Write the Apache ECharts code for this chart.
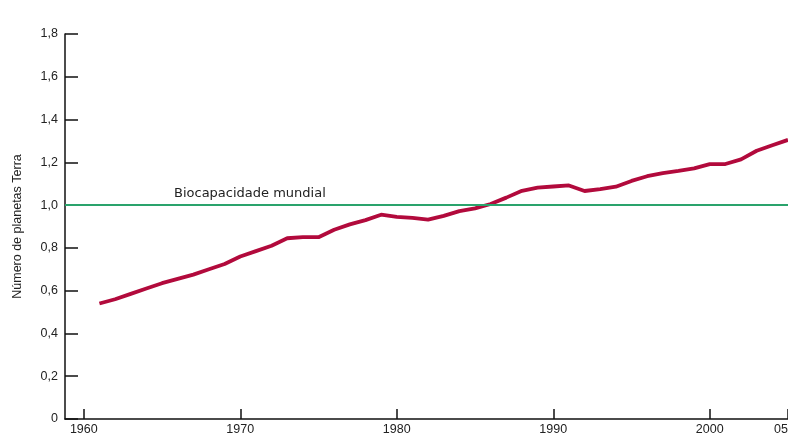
<!DOCTYPE html>
<html><head><meta charset="utf-8">
<script src="https://cdn.jsdelivr.net/npm/echarts@6/dist/echarts.min.js"></script>
<style>html,body{margin:0;padding:0;background:#fff}#c{width:788px;height:437px}</style>
</head><body><div id="c"></div>
<script>
const years = [1961,1962,1963,1964,1965,1966,1967,1968,1969,1970,1971,1972,1973,1974,1975,1976,1977,1978,1979,1980,1981,1982,1983,1984,1985,1986,1987,1988,1989,1990,1991,1992,1993,1994,1995,1996,1997,1998,1999,2000,2001,2002,2003,2004,2005];
const footprint = [0.54,0.56,0.585,0.61,0.635,0.655,0.675,0.70,0.725,0.76,0.785,0.81,0.845,0.85,0.85,0.885,0.91,0.93,0.955,0.945,0.94,0.932,0.95,0.972,0.985,1.005,1.035,1.067,1.082,1.087,1.092,1.066,1.075,1.086,1.113,1.135,1.15,1.16,1.172,1.192,1.192,1.214,1.254,1.28,1.305];
const xTicks = [1960,1970,1980,1990,2000,2005];
const yTicks = [0,0.2,0.4,0.6,0.8,1.0,1.2,1.4,1.6,1.8];
const biocapacity = 1.0;
const refLabel = 'Biocapacidade mundial';
const yTitle = 'Número de planetas Terra';

const chart = echarts.init(document.getElementById('c'), null, {renderer:'canvas'});
const font = 'Liberation Sans, Arial, sans-serif';
chart.setOption({
  animation:false,
  grid:{left:65, top:34, right:0, bottom:18, containLabel:false, outerBoundsMode:'none'},
  xAxis:{type:'value', min:1958.8, max:2005,
    axisLine:{lineStyle:{color:'#111', width:1.5}},
    axisTick:{inside:true, length:10, customValues:xTicks, lineStyle:{color:'#111', width:1.5}},
    axisLabel:{customValues:xTicks, color:'#222', fontFamily:font, fontSize:12.5, margin:4,
      alignMaxLabel:'right',
      formatter:v=> v===2005 ? '05' : String(v)},
    splitLine:{show:false}},
  yAxis:{type:'value', min:0, max:1.8, interval:0.2,
    name:yTitle, nameLocation:'middle', nameGap:41, nameRotate:90,
    nameTextStyle:{color:'#222', fontFamily:font, fontSize:12.5},
    axisLine:{show:true, lineStyle:{color:'#111', width:1.5}},
    axisTick:{show:true, inside:true, length:13, lineStyle:{color:'#111', width:1.5}},
    axisLabel:{color:'#222', fontFamily:font, fontSize:12.5, margin:7,
      formatter:v=> v===0 ? '0' : v.toFixed(1).replace('.',',')},
    splitLine:{show:false}},
  series:[{
    type:'line', data: years.map((y,i)=>[y, footprint[i]]),
    symbol:'none', lineStyle:{color:'#b20a3c', width:3.8}, z:3,
    markLine:{silent:true, symbol:'none',
      lineStyle:{color:'#2aa36c', width:2, type:'solid'},
      label:{show:true, position:'insideStartTop', formatter:refLabel,
        color:'#222', fontFamily:'DejaVu Sans', fontSize:13, padding:[0,0,0,104]},
      data:[{yAxis:biocapacity}]}
  }]
});
</script></body></html>
